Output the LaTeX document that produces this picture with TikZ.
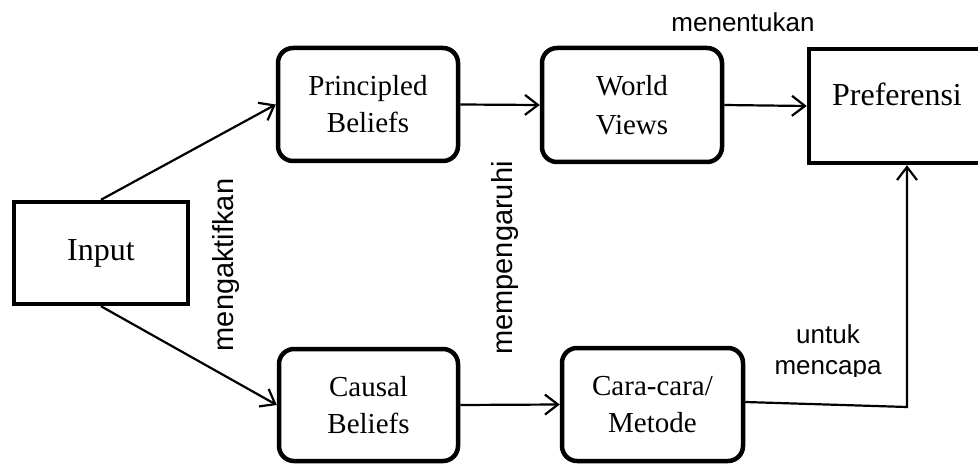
\documentclass[tikz,border=0pt]{standalone}
\usepackage{fontspec}
\setmainfont{Liberation Serif}
\newfontfamily\sansf{Liberation Sans}
\usetikzlibrary{arrows.meta}
\begin{document}
\begin{tikzpicture}[x=1pt,y=-1pt,
  sqbox/.style={draw,line width=4.5pt,rectangle,inner sep=0pt,align=center,font=\fontsize{32}{38}\selectfont},
  rbox/.style={draw,line width=4.5pt,rectangle,rounded corners=15pt,inner sep=0pt,align=center,font=\fontsize{29}{37}\selectfont},
  arr/.style={line width=2.2pt,-{Straight Barb[length=13pt,width=20pt,line width=2.2pt]}},
  lbl/.style={font=\sansf\fontsize{26}{31}\selectfont,inner sep=0pt},
  vlbl/.style={font=\sansf\fontsize{29}{34}\selectfont,inner sep=0pt,rotate=90,anchor=base}
]
\useasboundingbox (0,0) rectangle (978,465);
\fill[white] (0,0) rectangle (978,465);

\node[sqbox,minimum width=174pt,minimum height=102pt] (input) at (101,253) {Input};
\node[rbox,minimum width=180pt,minimum height=113pt] (pb) at (368,104.5) {Principled\\Beliefs};
\node[rbox,minimum width=180pt,minimum height=114pt] (wv) at (632,105) {World\\[2pt]Views};
\node[sqbox,minimum width=185pt,minimum height=114pt] (pref) at (901.5,106) {};
\node[font=\fontsize{32}{38}\selectfont,inner sep=0pt,anchor=base] (preftxt) at (897,106) {Preferensi};
\node[rbox,minimum width=179pt,minimum height=112pt] (cb) at (368.5,405) {Causal\\Beliefs};
\node[rbox,minimum width=181pt,minimum height=113pt] (cara) at (652.5,404.5) {Cara-cara/\\Metode};

\draw[arr] (input.north) -- (pb.west);
\draw[arr] (input.south) -- (cb.west);
\draw[arr] (pb.east) -- (wv.west);
\draw[arr] (wv.east) -- (pref.west);
\draw[arr] (cb.east) -- (cara.west);
\coordinate (cornerpt) at (907,407);
\draw[arr] ([yshift=2.5pt]cara.east) -- (cornerpt) -- ([xshift=5.5pt]pref.south);

\node[lbl,anchor=base] (ment) at (743,32) {menentukan};
\begin{scope}
\clip (760,300) rectangle (900,376);
\node[lbl,anchor=base] (untuk) at (828,343) {untuk};
\node[lbl,anchor=base] (mencapa) at (828,374) {mencapa};
\end{scope}
\node[vlbl] (meng) at (233,265) {mengaktifkan};
\node[vlbl] (memp) at (512,258) {mempengaruhi};
\end{tikzpicture}
\end{document}
